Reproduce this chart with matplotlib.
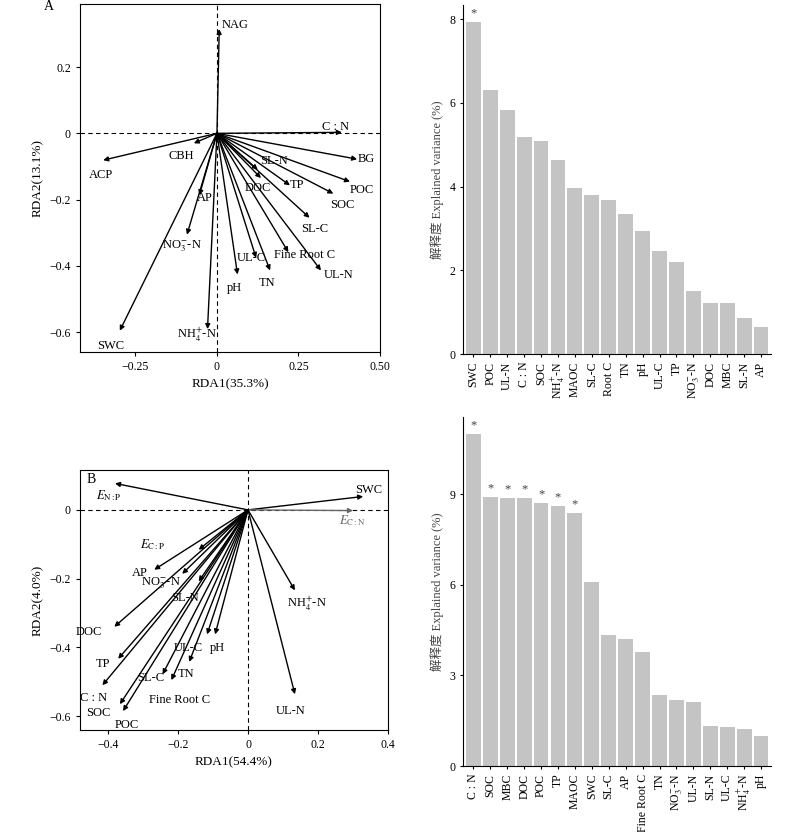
"""RDA biplots with explained-variance bar charts (panels A and B)."""

import matplotlib
matplotlib.use("Agg")
import matplotlib.pyplot as plt

plt.rcParams["font.family"] = ["Liberation Serif", "Noto Sans CJK SC"]
plt.rcParams["mathtext.fontset"] = "stix"
plt.rcParams["font.size"] = 9

NO3 = r"NO$_3^{-}$-N"
NH4 = r"NH$_4^{+}$-N"
CN = "C : N"

# Panel A RDA loadings
a_names = ["NAG", CN, "BG", "POC", "SOC", "SL-C", "UL-N", "Fine Root C", "TN",
           "UL-C", "pH", "TP", "SL-N", "DOC", NH4, "SWC", NO3, "AP", "CBH", "ACP"]
a_x = [0.007, 0.383, 0.43, 0.408, 0.357, 0.284, 0.319, 0.219, 0.163,
       0.12, 0.063, 0.224, 0.125, 0.135, -0.029, -0.298, -0.092, -0.054, -0.071, -0.349]
a_y = [0.315, 0.003, -0.078, -0.146, -0.182, -0.255, -0.414, -0.359, -0.414,
       -0.376, -0.426, -0.157, -0.11, -0.135, -0.591, -0.596, -0.306, -0.187, -0.03, -0.081]

# Panel B RDA loadings
b_names = [r"$E_{\rm N:P}$", "SWC", r"$E_{\rm C:N}$", r"$E_{\rm C:P}$", "AP", NO3, "SL-N",
           "DOC", "TP", CN, "SOC", "POC", "SL-C", "Fine Root C", "TN", "UL-C", "pH",
           NH4, "UL-N"]
b_x = [-0.38, 0.329, 0.30, -0.141, -0.268, -0.188, -0.141, -0.382, -0.371, -0.416,
       -0.366, -0.357, -0.244, -0.219, -0.168, -0.117, -0.094, 0.134, 0.134]
b_y = [0.077, 0.039, -0.002, -0.116, -0.174, -0.186, -0.208, -0.34, -0.433, -0.51,
       -0.565, -0.585, -0.478, -0.495, -0.442, -0.362, -0.362, -0.234, -0.536]

# Explained variance bars
bar_a_names = ["SWC", "POC", "UL-N", CN, "SOC", NH4, "MAOC", "SL-C", "Root C", "TN",
               "pH", "UL-C", "TP", NO3, "DOC", "MBC", "SL-N", "AP"]
bar_a_vals = [7.94, 6.32, 5.83, 5.19, 5.1, 4.63, 3.97, 3.8, 3.67, 3.34,
              2.94, 2.45, 2.2, 1.51, 1.21, 1.21, 0.85, 0.64]
bar_a_sig = [True] + [False] * 17

bar_b_names = [CN, "SOC", "MBC", "DOC", "POC", "TP", "MAOC", "SWC", "SL-C", "AP",
               "Fine Root C", "TN", NO3, "UL-N", "SL-N", "UL-C", NH4, "pH"]
bar_b_vals = [10.98, 8.91, 8.88, 8.88, 8.69, 8.6, 8.38, 6.1, 4.35, 4.19,
              3.76, 2.36, 2.2, 2.12, 1.31, 1.28, 1.21, 1.0]
bar_b_sig = [True] * 7 + [False] * 11

# label offsets in points (dx, dy)
A_OFF = {"NAG": (2, 3), CN: (-14, 4), "BG": (0, 0),
         "POC": (0, -6), "SOC": (-2, -8), "SL-C": (-6, -8),
         "UL-N": (2, -3), "Fine Root C": (-10, -2), "TN": (-8, -9),
         "UL-C": (-14, 0), "pH": (-8, -10), "TP": (0, 0),
         "SL-N": (2, 6), "DOC": (-12, -7), NH4: (-22, -4),
         "SWC": (-16, -11), NO3: (-18, -8), "AP": (-2, -2),
         "CBH": (-18, -9), "ACP": (-10, -11)}
B_OFF = {r"$E_{\rm N:P}$": (-14, -9), "SWC": (-6, 5),
         r"$E_{\rm C:N}$": (-10, -7), r"$E_{\rm C:P}$": (-42, 4),
         "AP": (-16, -2), NO3: (-30, -7), "SL-N": (-20, -12),
         "DOC": (-28, -4), "TP": (-16, -4), CN: (-16, -9),
         "SOC": (-24, -6), "POC": (-6, -10), "SL-C": (-18, -3),
         "Fine Root C": (-16, -14), "TN": (-8, -9), "UL-C": (-24, -10),
         "pH": (-4, -10), NH4: (-6, -10), "UL-N": (-14, -12)}


def biplot(ax, names, xs, ys, offsets, grey=()):
    ax.axhline(0, color="black", linestyle="--", linewidth=0.8, dashes=(4, 3))
    ax.axvline(0, color="black", linestyle="--", linewidth=0.8, dashes=(4, 3))
    for name, x, y in zip(names, xs, ys):
        col = "#666666" if name in grey else "black"
        ax.annotate("", xy=(x, y), xytext=(0, 0),
                    arrowprops=dict(arrowstyle="-|>", color=col, lw=1.0,
                                    mutation_scale=7, shrinkA=0, shrinkB=0))
        dx, dy = offsets[name]
        ax.annotate(name, xy=(x, y), xytext=(dx, dy), textcoords="offset points",
                    ha="left", va="center", fontsize=9, color=col)
    ax.tick_params(labelsize=8.5, length=3)


def barplot(ax, names, vals, sig, ymax, ticks):
    xs = list(range(len(names)))
    ax.bar(xs, vals, width=0.88, color="#c4c4c4")
    for x, v, s in zip(xs, vals, sig):
        if s:
            ax.text(x, v + ymax * 0.008, "*", ha="center", va="bottom", fontsize=9, color="#444444")
    ax.set_xlim(-0.6, len(names) - 0.4)
    ax.set_ylim(0, ymax)
    ax.set_yticks(ticks)
    ax.set_xticks(xs)
    ax.set_xticklabels(names, rotation=90, fontsize=8.5)
    ax.spines["top"].set_visible(False)
    ax.spines["right"].set_visible(False)
    ax.tick_params(labelsize=8.5, length=2)
    ax.set_ylabel("解释度 Explained variance (%)", fontsize=9, color="#444444")


fig = plt.figure(figsize=(8, 8.32), dpi=100)

ax1 = fig.add_axes([0.1, 0.577, 0.375, 0.418])
biplot(ax1, a_names, a_x, a_y, A_OFF)
ax1.set_xlim(-0.42, 0.5)
ax1.set_ylim(-0.66, 0.39)
ax1.set_xticks([-0.25, 0, 0.25, 0.5])
ax1.set_xticklabels(["−0.25", "0", "0.25", "0.50"])
ax1.set_yticks([-0.6, -0.4, -0.2, 0, 0.2])
ax1.set_yticklabels(["−0.6", "−0.4", "−0.2", "0", "0.2"])
ax1.set_xlabel("RDA1(35.3%)", fontsize=9.5)
ax1.set_ylabel("RDA2(13.1%)", fontsize=9.5)
fig.text(0.055, 0.988, "A", fontsize=10)

ax2 = fig.add_axes([0.1, 0.1226, 0.385, 0.3125])
biplot(ax2, b_names, b_x, b_y, B_OFF, grey=(r"$E_{\rm C:N}$",))
ax2.set_xlim(-0.48, 0.4)
ax2.set_ylim(-0.64, 0.116)
ax2.set_xticks([-0.4, -0.2, 0, 0.2, 0.4])
ax2.set_xticklabels(["−0.4", "−0.2", "0", "0.2", "0.4"])
ax2.set_yticks([-0.6, -0.4, -0.2, 0])
ax2.set_yticklabels(["−0.6", "−0.4", "−0.2", "0"])
ax2.set_xlabel("RDA1(54.4%)", fontsize=9.5)
ax2.set_ylabel("RDA2(4.0%)", fontsize=9.5)
ax2.text(0.02, 0.95, "B", transform=ax2.transAxes, fontsize=10)

ax3 = fig.add_axes([0.579, 0.5745, 0.385, 0.4195])
barplot(ax3, bar_a_names, bar_a_vals, bar_a_sig, 8.34, [0, 2, 4, 6, 8])

ax4 = fig.add_axes([0.579, 0.0793, 0.385, 0.4195])
barplot(ax4, bar_b_names, bar_b_vals, bar_b_sig, 11.55, [0, 3, 6, 9])

fig.savefig("out.png", dpi=100)
